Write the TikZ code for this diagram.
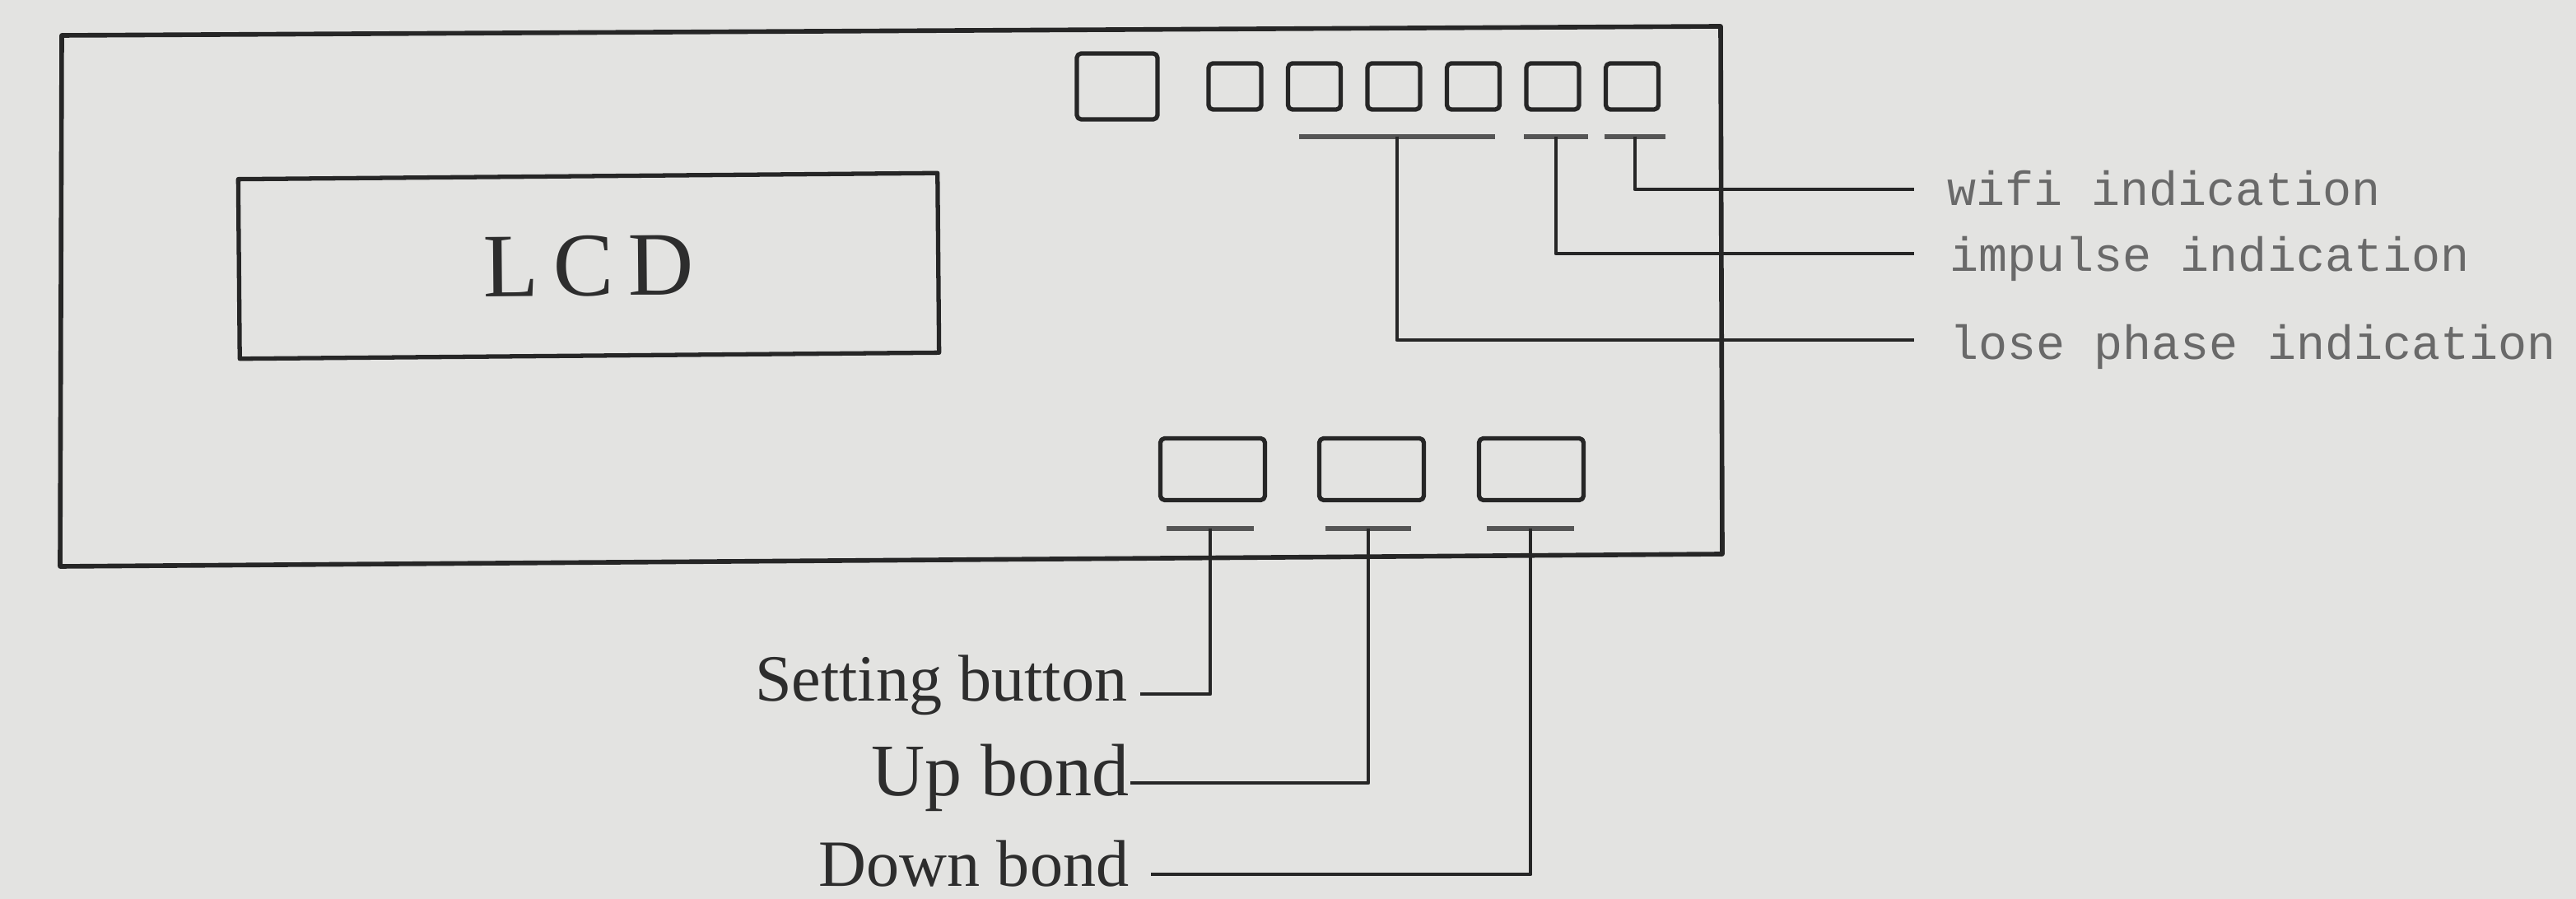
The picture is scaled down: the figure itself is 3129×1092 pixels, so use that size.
\documentclass[tikz,border=0pt]{standalone}
\usepackage{fontspec}
\setmainfont{Liberation Serif}
\newfontfamily\monofam{Liberation Mono}
\definecolor{bgc}{RGB}{227,227,225}
\definecolor{inkc}{RGB}{38,38,38}
\definecolor{barc}{RGB}{85,85,85}
\definecolor{txtc}{RGB}{45,45,45}
\definecolor{grayt}{RGB}{105,105,105}
\begin{document}
\begin{tikzpicture}[x=0.01cm,y=-0.01cm,line join=round,
  ink/.style={draw=inkc,line width=1.5pt},
  led/.style={ink,rounded corners=1.5pt,inner sep=0pt,minimum width=0.64cm,minimum height=0.56cm},
  btn/.style={ink,rounded corners=1.5pt,inner sep=0pt,minimum width=1.27cm,minimum height=0.75cm},
  bar/.style={fill=barc,inner sep=0pt,minimum height=0.06cm},
  lbl/.style={inner sep=0pt,text=txtc,font=\fontsize{22.8pt}{24pt}\selectfont},
  ind/.style={inner sep=0pt,text=grayt,font=\monofam\fontsize{16.6pt}{19pt}\selectfont},
  lead/.style={ink,line width=1.4pt}]
\fill[bgc] (0,0) rectangle (3129,1092);
\useasboundingbox (0,0) rectangle (3129,1092);

% housing
\draw[ink,line width=1.6pt] (75,43) -- (2090,32) -- (2092,673) -- (73,688) -- cycle;

% LCD
\node[ink,inner sep=0pt,minimum width=8.49cm,minimum height=2.18cm,rotate=0.5,
      font=\fontsize{31.3pt}{33pt}\selectfont,text=txtc] (lcd) at (715,323) {L\kern5pt C\kern5pt D};

% indicator lamps
\node[ink,rounded corners=1.5pt,inner sep=0pt,minimum width=0.98cm,minimum height=0.8cm] (lamp0) at (1357,105) {};
\node[led] (lamp1) at (1500,105) {};
\node[led] (lamp2) at (1596.5,105) {};
\node[led] (lamp3) at (1693,105) {};
\node[led] (lamp4) at (1789.5,105) {};
\node[led] (lamp5) at (1886,105) {};
\node[led] (lamp6) at (1982.5,105) {};

\node[bar,minimum width=2.38cm] (tb1) at (1697,166) {};
\node[bar,minimum width=0.77cm] (tb2) at (1890,166) {};
\node[bar,minimum width=0.74cm] (tb3) at (1986,166) {};

\coordinate (e1) at (2325,413);
\coordinate (e2) at (2325,308);
\coordinate (e3) at (2325,230);

\draw[lead] (tb1.center) |- (e1);
\draw[lead] (tb2.center) |- (e2);
\draw[lead] (tb3.center) |- (e3);

\node[ind,anchor=base west] (wifi) at (2365,250) {wifi indication};
\node[ind,anchor=base west] (imp) at (2368,330) {impulse indication};
\node[ind,anchor=base west] (lose) at (2368,437) {lose phase indication};

% buttons
\node[btn] (b1) at (1473,570) {};
\node[btn] (b2) at (1666,570) {};
\node[btn] (b3) at (1860,570) {};

\node[bar,minimum width=1.06cm] (bb1) at (1470,642) {};
\node[bar,minimum width=1.03cm] (bb2) at (1662,642) {};
\node[bar,minimum width=1.06cm] (bb3) at (1859,642) {};

\coordinate (s1) at (1385,843);
\coordinate (s2) at (1373,951);
\coordinate (s3) at (1398,1062);

\draw[lead] (bb1.center) |- (s1);
\draw[lead] (bb2.center) |- (s2);
\draw[lead] (bb3.center) |- (s3);

\node[lbl,anchor=base east] (set) at (1370,852) {Setting button};
\node[lbl,anchor=base east,font=\fontsize{25.6pt}{27pt}\selectfont] (up) at (1372,967) {Up bond};
\node[lbl,anchor=base east] (down) at (1372,1077) {Down bond};
\end{tikzpicture}
\end{document}
